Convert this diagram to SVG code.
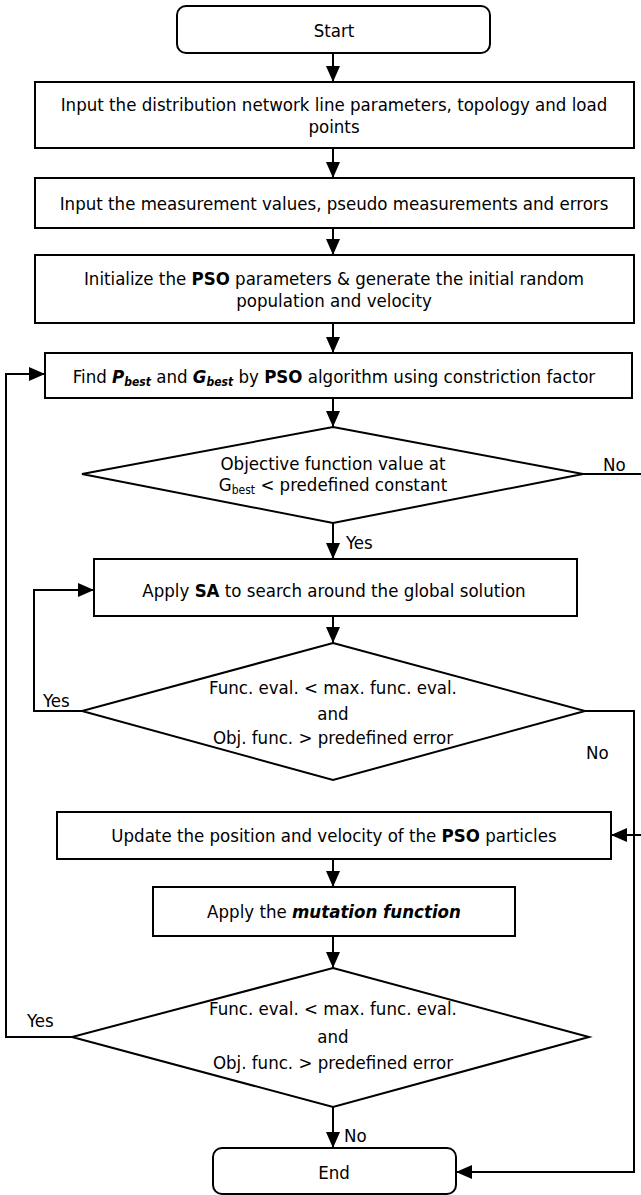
<svg xmlns="http://www.w3.org/2000/svg" width="641" height="1195" viewBox="0 0 641 1195">
  <style>
    .box { fill: #ffffff; stroke: #000000; stroke-width: 2; }
    .edge { fill: none; stroke: #000000; stroke-width: 2; }
    .lbl { font-family: "DejaVu Sans Condensed", "DejaVu Sans", Verdana, sans-serif; font-stretch: condensed; font-size: 18.5px; fill: #000000; text-anchor: middle; }
    .tag { font-family: "DejaVu Sans Condensed", "DejaVu Sans", Verdana, sans-serif; font-stretch: condensed; font-size: 18.5px; fill: #000000; }
    .b { font-weight: bold; }
    .bi { font-weight: bold; font-style: italic; }
    .sub { font-size: 12px; }
  </style>
  <defs>
    <marker id="arrow" markerUnits="userSpaceOnUse" markerWidth="16" markerHeight="14" refX="16" refY="7" orient="auto">
      <path d="M0,0 L16,7 L0,14 z" fill="#000000"/>
    </marker>
  </defs>

  <rect width="641" height="1195" fill="#ffffff"/>

  <!-- connectors -->
  <g id="connectors">
    <line class="edge" x1="333" y1="53" x2="333" y2="82" marker-end="url(#arrow)"/>
    <line class="edge" x1="333" y1="148" x2="333" y2="178" marker-end="url(#arrow)"/>
    <line class="edge" x1="333" y1="228" x2="333" y2="255" marker-end="url(#arrow)"/>
    <line class="edge" x1="333" y1="323" x2="333" y2="353" marker-end="url(#arrow)"/>
    <line class="edge" x1="333" y1="398" x2="333" y2="427" marker-end="url(#arrow)"/>
    <line class="edge" x1="333" y1="523" x2="333" y2="559" marker-end="url(#arrow)"/>
    <line class="edge" x1="333" y1="616" x2="333" y2="643" marker-end="url(#arrow)"/>
    <line class="edge" x1="333" y1="859" x2="333" y2="887" marker-end="url(#arrow)"/>
    <line class="edge" x1="333" y1="936" x2="333" y2="968" marker-end="url(#arrow)"/>
    <line class="edge" x1="333" y1="1107" x2="333" y2="1148" marker-end="url(#arrow)"/>
    <!-- objective check: No branch leaves to the right -->
    <polyline class="edge" points="583,474 650,474"/>
    <!-- return into the particle update step -->
    <line class="edge" x1="650" y1="835" x2="611" y2="835" marker-end="url(#arrow)"/>
    <!-- SA loop -->
    <polyline class="edge" points="82,711 34,711 34,590 94,590" marker-end="url(#arrow)"/>
    <!-- SA exit to End -->
    <polyline class="edge" points="585,711 634,711 634,1172 456,1172" marker-end="url(#arrow)"/>
    <!-- PSO loop -->
    <polyline class="edge" points="72,1037 6,1037 6,374 45,374" marker-end="url(#arrow)"/>
  </g>

  <!-- connector labels -->
  <g id="edge-labels">
    <text class="tag" x="603" y="471">No</text>
    <text class="tag" x="346" y="549">Yes</text>
    <text class="tag" x="43" y="707">Yes</text>
    <text class="tag" x="586" y="759">No</text>
    <text class="tag" x="27" y="1027">Yes</text>
    <text class="tag" x="344" y="1142">No</text>
  </g>

  <g id="start">
    <rect class="box" x="177" y="6" width="313" height="47" rx="9"/>
    <text class="lbl" x="334" y="37">Start</text>
  </g>

  <g id="input-network">
    <rect class="box" x="35" y="82" width="599" height="66"/>
    <text class="lbl" x="334" y="111">Input the distribution network line parameters, topology and load</text>
    <text class="lbl" x="334" y="133">points</text>
  </g>

  <g id="input-measurements">
    <rect class="box" x="35" y="178" width="599" height="50"/>
    <text class="lbl" x="334" y="210">Input the measurement values, pseudo measurements and errors</text>
  </g>

  <g id="init-pso">
    <rect class="box" x="35" y="255" width="599" height="68"/>
    <text class="lbl" x="334" y="285">Initialize the <tspan class="b">PSO</tspan> parameters &amp; generate the initial random</text>
    <text class="lbl" x="334" y="307">population and velocity</text>
  </g>

  <g id="find-best">
    <rect class="box" x="45" y="353" width="587" height="45"/>
    <text class="lbl" x="334" y="383">Find <tspan class="bi">P</tspan><tspan class="bi sub" dy="3">best</tspan><tspan dy="-3"> and </tspan><tspan class="bi">G</tspan><tspan class="bi sub" dy="3">best</tspan><tspan dy="-3"> by </tspan><tspan class="b">PSO</tspan> algorithm using constriction factor</text>
  </g>

  <g id="objective-check">
    <polygon class="box" points="333,427 583,474 333,523 82,474"/>
    <text class="lbl" x="333" y="470">Objective function value at</text>
    <text class="lbl" x="333" y="491">G<tspan class="sub" dy="3">best</tspan><tspan dy="-3"> &lt; predefined constant</tspan></text>
  </g>

  <g id="apply-sa">
    <rect class="box" x="94" y="559" width="483" height="57"/>
    <text class="lbl" x="334" y="597">Apply <tspan class="b">SA</tspan> to search around the global solution</text>
  </g>

  <g id="sa-check">
    <polygon class="box" points="333,643 585,711 333,780 82,711"/>
    <text class="lbl" x="333" y="694">Func. eval. &lt; max. func. eval.</text>
    <text class="lbl" x="333" y="720">and</text>
    <text class="lbl" x="333" y="744">Obj. func. &gt; predefined error</text>
  </g>

  <g id="update-particles">
    <rect class="box" x="57" y="812" width="554" height="47"/>
    <text class="lbl" x="334" y="842">Update the position and velocity of the <tspan class="b">PSO</tspan> particles</text>
  </g>

  <g id="mutation">
    <rect class="box" x="153" y="887" width="362" height="49"/>
    <text class="lbl" x="334" y="918">Apply the <tspan class="bi">mutation function</tspan></text>
  </g>

  <g id="pso-check">
    <polygon class="box" points="333,968 589,1037 333,1107 72,1037"/>
    <text class="lbl" x="333" y="1015">Func. eval. &lt; max. func. eval.</text>
    <text class="lbl" x="333" y="1043">and</text>
    <text class="lbl" x="333" y="1069">Obj. func. &gt; predefined error</text>
  </g>

  <g id="end">
    <rect class="box" x="213" y="1148" width="243" height="46" rx="9"/>
    <text class="lbl" x="334" y="1179">End</text>
  </g>
</svg>
